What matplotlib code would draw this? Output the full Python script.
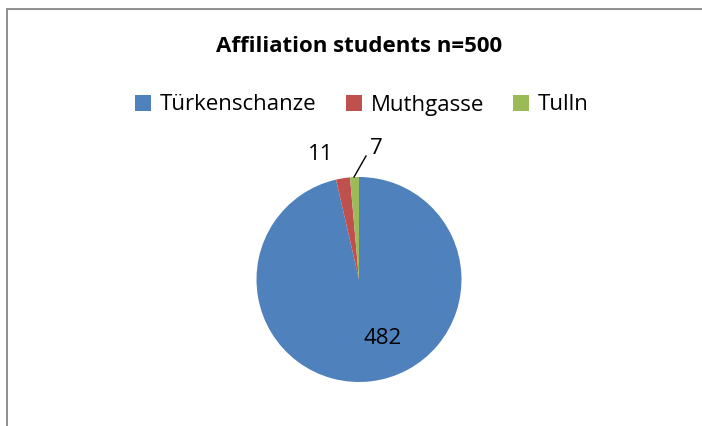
import matplotlib
matplotlib.use("Agg")
import matplotlib.pyplot as plt
from matplotlib.patches import Rectangle

categories = ["Türkenschanze", "Muthgasse", "Tulln"]
values = [482, 11, 7]
colors = ["#4F81BD", "#C0504D", "#9BBB59"]
title = "Affiliation students n=500"

W, H = 702, 426
fig = plt.figure(figsize=(W / 100, H / 100), dpi=100)
ax = fig.add_axes([0, 0, 1, 1])

font = ["Open Sans", "DejaVu Sans"]

cx, cy, r = 359, H - 279.5, 102.5
wedges, _ = ax.pie(values, colors=colors, startangle=90, counterclock=False,
                   center=(cx, cy), radius=r, frame=True,
                   wedgeprops=dict(linewidth=0))
ax.set_xlim(0, W)
ax.set_ylim(0, H)
ax.set_aspect("equal")
ax.axis("off")

# chart frame
ax.add_patch(Rectangle((6.5, -10), W + 10, H - 9 + 10, fill=False,
                       edgecolor="#868686", linewidth=1.3))

# data labels
lab_size = 16
ax.text(383, H - 339, str(values[0]), ha="center", va="center",
        fontsize=lab_size, family=font)
ax.text(321, H - 154, str(values[1]), ha="center", va="center",
        fontsize=lab_size, family=font)
ax.text(376, H - 149, str(values[2]), ha="center", va="center",
        fontsize=lab_size, family=font)
ax.plot([354, 366], [H - 177, H - 156], color="black", linewidth=1)

# title
ax.text(359, H - 46, title, ha="center", va="center", fontsize=16,
        fontweight="bold", family=font)

# legend
leg = ax.legend(wedges, categories, loc="center", bbox_to_anchor=(362 / W, 1 - 105 / H),
                ncol=3, frameon=False, prop=dict(family=font, size=16),
                handlelength=0.72, handleheight=0.72, handletextpad=0.4,
                columnspacing=1.3, borderaxespad=0, borderpad=0)

fig.savefig("out.png", dpi=100, facecolor="white")
